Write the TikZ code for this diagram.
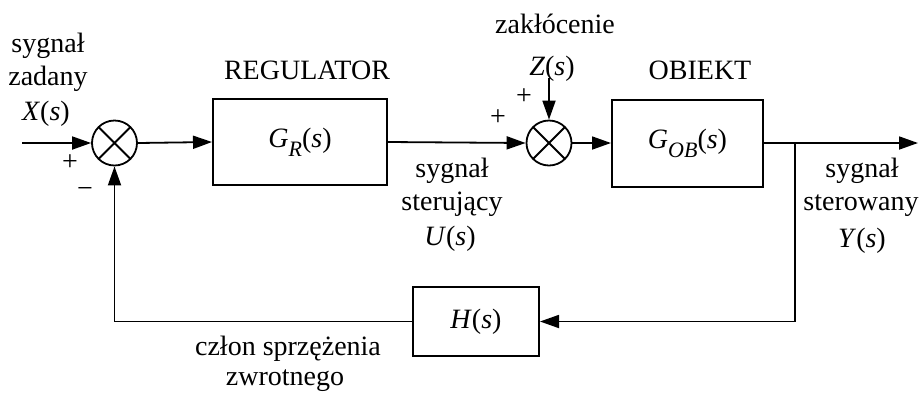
\documentclass[tikz,border=0pt]{standalone}
\usepackage{fontspec}
\setmainfont{Liberation Serif}
\usetikzlibrary{arrows.meta}
\newcommand{\subit}[1]{\raisebox{-0.32em}{\fontsize{22}{22}\selectfont\textit{#1}}}
\begin{document}
\begin{tikzpicture}[x=1pt,y=-1pt,
  font=\rmfamily\fontsize{28}{33}\selectfont,
  line width=1.8pt,
  >={Triangle[length=19pt,width=13pt]},
  blk/.style={draw, line width=2pt, inner sep=0pt},
  sumj/.style={draw, circle, minimum size=45pt, inner sep=0pt, line width=1.8pt,
    path picture={\draw[line width=1.8pt] (path picture bounding box.north west) -- (path picture bounding box.south east)
      (path picture bounding box.north east) -- (path picture bounding box.south west);}},
  lbl/.style={anchor=base, inner sep=0pt},
  sgn/.style={inner sep=0pt}]
\useasboundingbox (0,0) rectangle (920,392);

% blocks and junctions
\node[sumj] (s1) at (114.5,143) {};
\node[sumj] (s2) at (549,143) {};
\node[blk, minimum width=174pt, minimum height=86pt] (gr) at (300,142) {\textit{G}\subit{R}(\textit{s})};
\node[blk, minimum width=151pt, minimum height=87pt] (gob) at (687.5,143) {\textit{G}\subit{OB}(\textit{s})};
\node[blk, minimum width=126pt, minimum height=69pt] (h) at (476,321.5) {\textit{H}(\textit{s})};

\coordinate (in) at (22,143);
\coordinate (out) at (918,143);
\coordinate (br) at (795,143);
\coordinate (zin) at (549,78);

% connectors
\draw[->] (in) -- (s1.west);
\draw[->] (s1.east) -- (gr.west);
\draw[->] (gr.east) -- (s2.west);
\draw[->] (s2.east) -- (gob.west);
\draw[->] (gob.east) -- (out);
\draw[->] (br) |- (h.east);
\draw[->] (h.west) -| (s1.south);
\draw[->] (zin) -- (s2.north);

% labels
\node[lbl] (l1) at (48,52) {sygnał};
\node[lbl] (l2) at (48,85) {zadany};
\node[lbl] (l3) at (46,120) {\textit{X}(\textit{s})};
\node[sgn] (p1) at (70,163) {+};
\node[sgn] (m1) at (85,192) {−};
\node[lbl] (l4) at (307,79) {REGULATOR};
\node[lbl] (l5) at (700,79) {OBIEKT};
\node[lbl] (l6) at (555,33) {zakłócenie};
\node[lbl] (l7) at (552,75) {\textit{Z}(\textit{s})};
\node[sgn] (p2) at (524,97) {+};
\node[sgn] (p3) at (498,118) {+};
\node[lbl] (l8) at (452,177) {sygnał};
\node[lbl] (l9) at (452,210) {sterujący};
\node[lbl] (l10) at (450,245) {\textit{U}(\textit{s})};
\node[lbl] (l11) at (862,177) {sygnał};
\node[lbl] (l12) at (861,210) {sterowany};
\node[lbl] (l13) at (862,247) {\textit{Y}(\textit{s})};
\node[lbl] (l14) at (288,355) {człon sprzężenia};
\node[lbl] (l15) at (285,385) {zwrotnego};
\end{tikzpicture}
\end{document}
